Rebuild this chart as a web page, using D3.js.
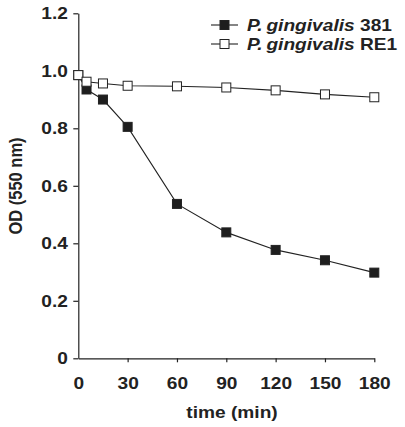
<!DOCTYPE html>
<html><head><meta charset="utf-8">
<script src="https://cdn.jsdelivr.net/npm/d3@7"></script>
<style>body{margin:0;background:#fff}svg{display:block}</style>
</head><body>
<script>
const times = [0, 5, 15, 30, 60, 90, 120, 150, 180];
const od381 = [0.985, 0.935, 0.90, 0.805, 0.537, 0.438, 0.377, 0.341, 0.298];
const odRE1 = [0.985, 0.962, 0.956, 0.948, 0.946, 0.942, 0.932, 0.918, 0.908];
const xTicks = [0, 30, 60, 90, 120, 150, 180];
const yTicks = [0, 0.2, 0.4, 0.6, 0.8, 1.0, 1.2];
const yTickLabels = ["0", "0.2", "0.4", "0.6", "0.8", "1.0", "1.2"];
const seriesNames = ["381", "RE1"];
const seriesFill = ["#1e1e1e", "#ffffff"];

const W = 405, H = 427;
const svg = d3.select("body").append("svg").attr("width", W).attr("height", H);
const x = d3.scaleLinear().domain([0, 180]).range([78.3, 374.3]);
const y = d3.scaleLinear().domain([0, 1.2]).range([358.3, 13.3]);
const font = "'Liberation Sans', Arial, sans-serif";
const ink = "#222";
const fs = 16.5, sx = 1.16;

// axes
const xAxis = svg.append("g").attr("transform", `translate(0,${y(0)})`)
  .call(d3.axisBottom(x).tickValues(xTicks).tickSize(4).tickPadding(14.5).tickSizeOuter(0));
const yAxis = svg.append("g").attr("transform", `translate(${x(0)},0)`)
  .call(d3.axisLeft(y).tickValues(yTicks).tickFormat((d, i) => yTickLabels[i]).tickSize(5).tickPadding(4).tickSizeOuter(0));
[xAxis, yAxis].forEach(g => {
  g.select(".domain").attr("stroke", ink).attr("stroke-width", 1.2);
  g.selectAll(".tick line").attr("stroke", ink).attr("stroke-width", 1.2);
  g.selectAll("text").attr("font-family", font).attr("font-weight", "bold")
    .attr("font-size", fs).attr("fill", "#222").attr("transform", `scale(${sx},1)`);
});
xAxis.selectAll(".tick").filter(d => d === 0).select("line").remove();

// axis titles
svg.append("g").attr("transform", `translate(232,418) scale(${sx},1)`)
  .append("text").attr("text-anchor", "middle")
  .attr("font-family", font).attr("font-weight", "bold").attr("font-size", fs).attr("fill", "#222")
  .text("time (min)");
svg.append("text").attr("transform", `translate(22,186) scale(${sx},1) rotate(-90)`).attr("text-anchor", "middle")
  .attr("font-family", font).attr("font-weight", "bold").attr("font-size", fs).attr("fill", "#222")
  .text("OD (550 nm)");

// series
const series = [od381, odRE1];
const line = d3.line().x((d, i) => x(times[i])).y(d => y(d));
const ms = 9;
[0, 1].forEach(s => {
  svg.append("path").datum(series[s]).attr("d", line).attr("fill", "none")
    .attr("stroke", ink).attr("stroke-width", 1.1);
});
[0, 1].forEach(s => {
  svg.append("g").selectAll("rect").data(series[s]).join("rect")
    .attr("x", (d, i) => x(times[i]) - ms / 2).attr("y", d => y(d) - ms / 2)
    .attr("width", ms).attr("height", ms)
    .attr("fill", seriesFill[s]).attr("stroke", ink).attr("stroke-width", 1);
});

// legend
const legY = [25, 44];
[0, 1].forEach(s => {
  const g = svg.append("g");
  g.append("line").attr("x1", 211).attr("x2", 238).attr("y1", legY[s]).attr("y2", legY[s])
    .attr("stroke", ink).attr("stroke-width", 1.1);
  g.append("rect").attr("x", 224.5 - ms / 2).attr("y", legY[s] - ms / 2).attr("width", ms).attr("height", ms)
    .attr("fill", seriesFill[s]).attr("stroke", ink).attr("stroke-width", 1);
  const t = g.append("g").attr("transform", `translate(247,${legY[s] + 6}) scale(${sx},1)`)
    .append("text")
    .attr("font-family", font).attr("font-weight", "bold").attr("font-size", fs).attr("fill", "#222");
  t.append("tspan").attr("font-style", "italic").text("P.\u2009gingivalis");
  t.append("tspan").text(" " + seriesNames[s]);
});
</script>
</body></html>
